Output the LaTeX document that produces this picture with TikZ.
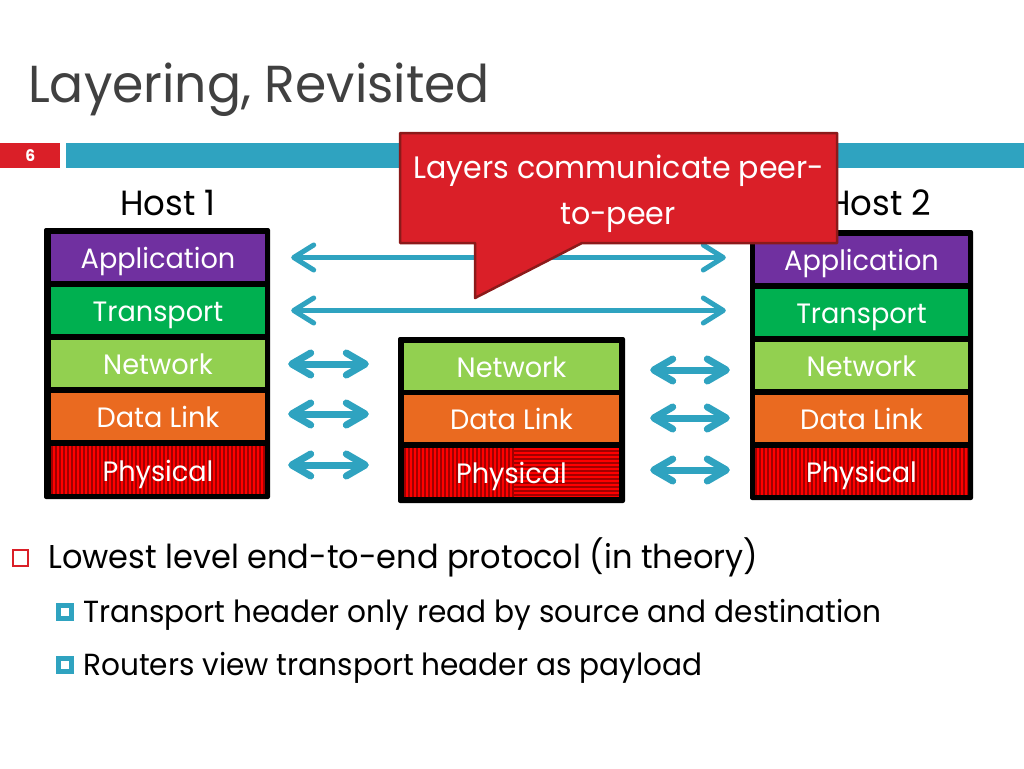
\documentclass[tikz,border=0pt]{standalone}
\usepackage{fontspec}
\setmainfont{Poppins}[FakeStretch=0.97]
\usetikzlibrary{arrows.meta}
\definecolor{tealc}{HTML}{2FA3C0}
\definecolor{redc}{HTML}{DA1F28}
\definecolor{calborder}{HTML}{8B1A1A}
\definecolor{appc}{HTML}{7030A0}
\definecolor{trc}{HTML}{00B050}
\definecolor{netc}{HTML}{92D050}
\definecolor{dlc}{HTML}{EA6A20}
\definecolor{phc}{HTML}{FF0000}
\definecolor{phs}{HTML}{A00000}
\definecolor{titlec}{HTML}{404040}
\tikzset{
  layer/.style={minimum width=214, minimum height=47, inner sep=0, text=white, text height=22, text depth=0, font=\fontsize{28}{30}\selectfont},
  stackbox/.style={fill=black, rounded corners=2},
  vstripes/.style={path picture={
      \foreach \i in {1,5,...,217}
        \draw[phs, line width=1.3] ([xshift=\i]path picture bounding box.south west) -- ([xshift=\i]path picture bounding box.north west);}},
  longarrow/.style={tealc, line width=5, {Straight Barb[length=20,width=25,round]}-{Straight Barb[length=20,width=25,round]}},
  shortarrow/.style={tealc, line width=7, {Straight Barb[length=19,width=22,round]}-{Straight Barb[length=19,width=22,round]}},
  hosttext/.style={font=\fontsize{35}{37}\selectfont},
}
\begin{document}
\begin{tikzpicture}[x=1pt,y=-1pt]
\useasboundingbox[fill=white] (0,0) rectangle (1024,768);
% title
\node[anchor=base west, inner sep=0, text=titlec, font=\fontsize{52}{56}\selectfont] (title) at (28,102) {Layering, Revisited};
% header bar
\node[fill=redc, minimum width=60, minimum height=25, inner sep=0, anchor=north west, text=white, font=\bfseries\fontsize{16}{18}\selectfont] (num) at (0,143) {6};
\node[fill=tealc, minimum width=958, minimum height=25, inner sep=0, anchor=north west] (bar) at (66,143) {};
% host labels
\node[hosttext, anchor=base] (host1) at (168,215) {Host 1};
\node[hosttext, anchor=base] (host2) at (879,215) {Host 2};
% host 1 stack
\fill[stackbox] (44,228) rectangle (270,499);
\node[layer, fill=appc] (a1) at (158,257.5) {Application};
\node[layer, fill=trc] (t1) at (158,310.5) {Transport};
\node[layer, fill=netc] (n1) at (158,363.5) {Network};
\node[layer, fill=dlc] (d1) at (158,416.5) {Data Link};
\node[layer, fill=phc, minimum height=48, vstripes] (p1) at (158,470) {Physical};
% router stack
\fill[stackbox] (398,337) rectangle (625,503);
\node[layer, fill=netc, minimum width=215] (nr) at (511.5,366.5) {Network};
\node[layer, fill=dlc, minimum width=215] (dr) at (511.5,418.5) {Data Link};
\node[layer, fill=phc, minimum width=215, minimum height=49, path picture={
      \foreach \i in {1,5,...,109}
        \draw[phs, line width=1.3] ([xshift=\i]path picture bounding box.south west) -- ([xshift=\i]path picture bounding box.north west);
      \foreach \j in {2,6,...,50}
        \draw[phs, line width=1.3] ([xshift=108,yshift=\j]path picture bounding box.south west) -- ([yshift=\j]path picture bounding box.south east);}] (pr) at (511.5,472.5) {Physical};
% host 2 stack
\fill[stackbox] (750,230) rectangle (973,500);
\node[layer, fill=appc, minimum width=213] (a2) at (861.5,259.5) {Application};
\node[layer, fill=trc, minimum width=213] (t2) at (861.5,312.5) {Transport};
\node[layer, fill=netc, minimum width=213] (n2) at (861.5,365.5) {Network};
\node[layer, fill=dlc, minimum width=213] (d2) at (861.5,418.5) {Data Link};
\node[layer, fill=phc, minimum width=213, minimum height=47, vstripes] (p2) at (861.5,471.5) {Physical};
% arrows
\draw[longarrow, shorten <=26, shorten >=29] (a1.east) -- (a1.east -| a2.west);
\draw[longarrow, shorten <=26, shorten >=29] (t1.east) -- (t1.east -| t2.west);
\draw[shortarrow, shorten <=23, shorten >=35] ([yshift=-0.5]n1.east) -- ([yshift=-0.5]n1.east -| nr.west);
\draw[shortarrow, shorten <=23, shorten >=35] ([yshift=2.5]d1.east) -- ([yshift=2.5]d1.east -| dr.west);
\draw[shortarrow, shorten <=23, shorten >=35] ([yshift=5]p1.east) -- ([yshift=5]p1.east -| pr.west);
\draw[shortarrow, shorten <=31, shorten >=25] ([yshift=-3.5]nr.east) -- ([yshift=-3.5]nr.east -| n2.west);
\draw[shortarrow, shorten <=31, shorten >=25] ([yshift=0.5]dr.east) -- ([yshift=0.5]dr.east -| d2.west);
\draw[shortarrow, shorten <=31, shorten >=25] ([yshift=2.5]pr.east) -- ([yshift=2.5]pr.east -| p2.west);
% callout
\filldraw[fill=redc, draw=calborder, line width=2.5, line join=round] (400,133) -- (837,133) -- (837,243) -- (582,243) -- (475,298) -- (475,243) -- (400,243) -- cycle;
\node[anchor=base, text=white, font=\fontsize{31}{33}\selectfont, inner sep=0] (call1) at (619,178) {Layers communicate peer-};
\node[anchor=base, text=white, font=\fontsize{31}{33}\selectfont, inner sep=0] (call2) at (618,224) {to-peer};
% bullets
\draw[redc, line width=1.5] (13,550) rectangle (28,566);
\node[anchor=base west, inner sep=0, font=\fontsize{33}{35}\selectfont] (b1) at (48,568) {Lowest level end-to-end protocol (in theory)};
\fill[tealc] (56,603) rectangle (74,621);
\fill[white] (61,608) rectangle (69,616);
\node[anchor=base west, inner sep=0, font=\fontsize{30.5}{32}\selectfont] (b2) at (83,622) {Transport header only read by source and destination};
\fill[tealc] (56,656) rectangle (74,674);
\fill[white] (61,661) rectangle (69,669);
\node[anchor=base west, inner sep=0, font=\fontsize{30.5}{32}\selectfont] (b3) at (83,675) {Routers view transport header as payload};
\end{tikzpicture}
\end{document}
